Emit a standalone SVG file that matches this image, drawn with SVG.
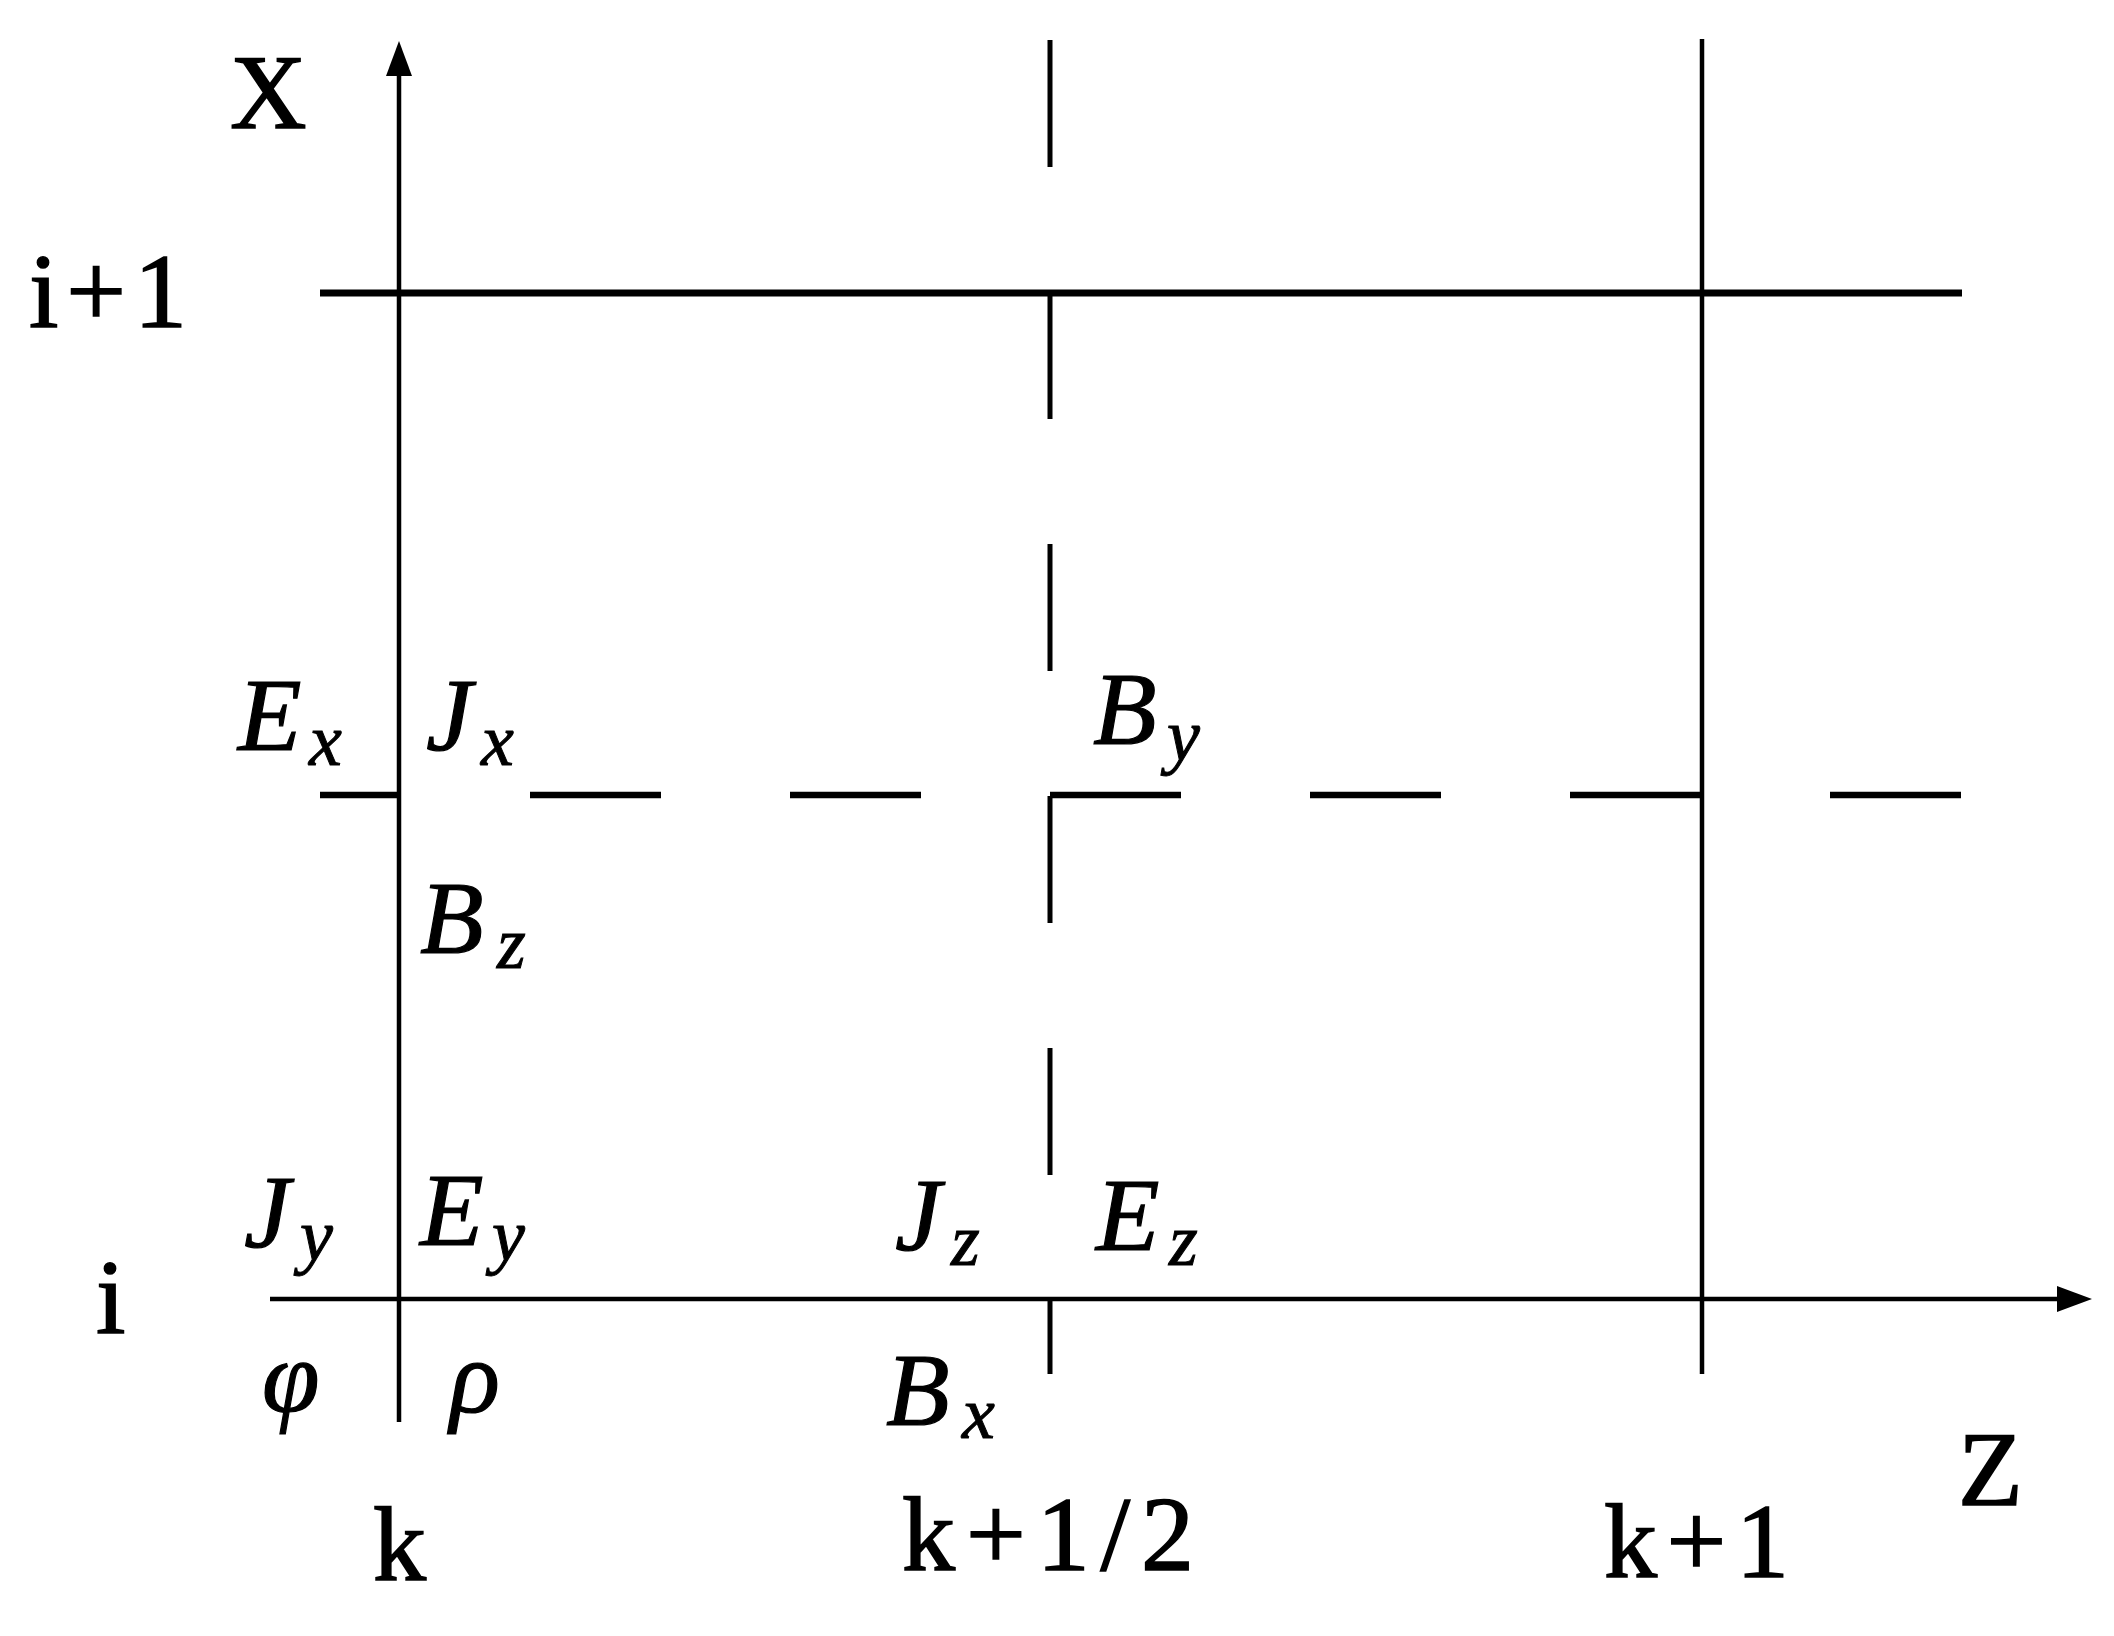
<svg xmlns="http://www.w3.org/2000/svg" width="2114" height="1636" viewBox="0 0 2114 1636">
<style>
.v{stroke:#000;stroke-width:4.5;fill:none}
.h{stroke:#000;stroke-width:7;fill:none}
.ax{stroke:#000;stroke-width:4.5;fill:none}
.dv{stroke:#000;stroke-width:5;fill:none;stroke-dasharray:127 125}
.dh{stroke:#000;stroke-width:6.5;fill:none;stroke-dasharray:131 129}
.up{font-family:"Liberation Serif","DejaVu Serif",serif;font-size:106px;fill:#000;stroke:#000;stroke-width:1.6}
.it{font-family:"Liberation Serif","DejaVu Serif",serif;font-style:italic;font-size:104px;fill:#000;stroke:#000;stroke-width:1.2}
.sub{font-family:"Liberation Serif","DejaVu Serif",serif;font-style:italic;font-size:74px;fill:#000;stroke:#000;stroke-width:1}
</style>
<defs>
<marker id="arr" markerUnits="userSpaceOnUse" markerWidth="40" markerHeight="28" refX="0" refY="13" orient="auto">
<path d="M0,0 L35,13 L0,26 z" fill="#000"/>
</marker>
</defs>
<rect width="2114" height="1636" fill="#fff"/>
<g id="connectors">
<line id="x-axis" class="ax" x1="399" y1="1422" x2="399" y2="76" marker-end="url(#arr)"/>
<line id="z-axis" class="ax" x1="270" y1="1299" x2="2057" y2="1299" marker-end="url(#arr)"/>
<line id="line-i1" class="h" x1="320" y1="293" x2="1962" y2="293"/>
<line id="line-k1" class="v" x1="1702" y1="39" x2="1702" y2="1374"/>
<line id="dash-k12" class="dv" x1="1050" y1="40" x2="1050" y2="1374"/>
<line id="dash-i12" class="dh" x1="1961" y1="795" x2="320" y2="795"/>
</g>
<g id="axis-labels">
<text class="up" x="230" y="128">X</text>
<text class="up" x="29" y="327" textLength="158" lengthAdjust="spacing">i+1</text>
<text class="up" x="96" y="1333">i</text>
<text class="up" x="373" y="1580">k</text>
<text class="up" x="902" y="1570" textLength="292" lengthAdjust="spacing">k+1/2</text>
<text class="up" x="1604" y="1577" textLength="185" lengthAdjust="spacing">k+1</text>
<text class="up" x="1958" y="1505">Z</text>
</g>
<g id="Ex"><text class="it" x="238" y="750">E</text><text class="sub" x="309" y="765">x</text></g>
<g id="Jx"><text class="it" x="426" y="750">J</text><text class="sub" x="481" y="765">x</text></g>
<g id="Bz"><text class="it" x="420" y="953">B</text><text class="sub" x="497" y="968">z</text></g>
<g id="By"><text class="it" x="1093" y="744">B</text><text class="sub" x="1167" y="760">y</text></g>
<g id="Jy"><text class="it" x="244" y="1247">J</text><text class="sub" x="300" y="1260">y</text></g>
<g id="Ey"><text class="it" x="420" y="1245">E</text><text class="sub" x="492" y="1260">y</text></g>
<g id="Jz"><text class="it" x="895" y="1250">J</text><text class="sub" x="951" y="1265">z</text></g>
<g id="Ez"><text class="it" x="1096" y="1250">E</text><text class="sub" x="1169" y="1265">z</text></g>
<g id="phi"><text class="it" x="262" y="1412">φ</text></g>
<g id="rho"><text class="it" x="450" y="1412">ρ</text></g>
<g id="Bx"><text class="it" x="886" y="1425">B</text><text class="sub" x="962" y="1438">x</text></g>
</svg>
